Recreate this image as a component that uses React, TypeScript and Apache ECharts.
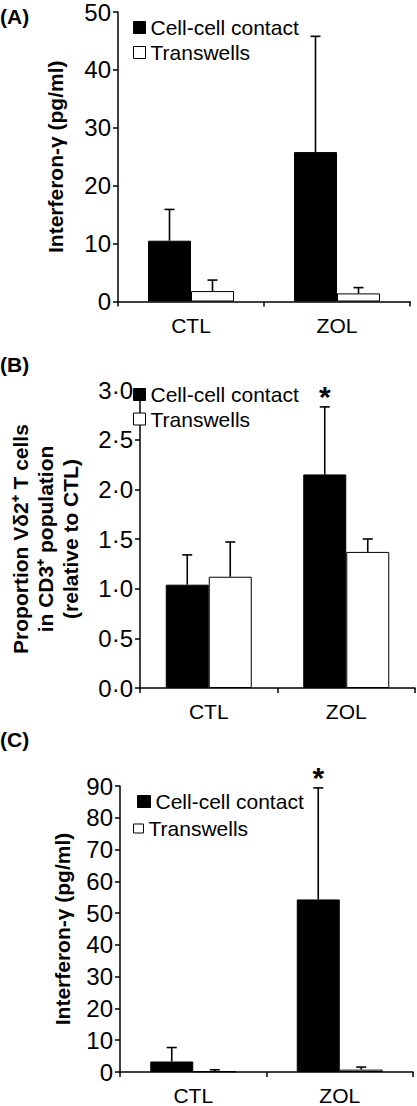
import React, { useEffect, useRef } from "react";
import * as echarts from "echarts";

const categories = ["CTL", "ZOL"];

// Panel A: Interferon-γ (pg/ml)
const aContact = [10.5, 25.8];
const aContactErr = [5.4, 20.0];
const aTrans = [1.8, 1.4];
const aTransErr = [1.9, 1.0];
const aSig = [false, false];

// Panel B: proportion Vδ2+ T cells (relative to CTL)
const bContact = [1.04, 2.15];
const bContactErr = [0.3, 0.68];
const bTrans = [1.12, 1.37];
const bTransErr = [0.35, 0.13];
const bSig = [false, true];

// Panel C: Interferon-γ (pg/ml)
const cContact = [3.3, 54.3];
const cContactErr = [4.4, 35.1];
const cTrans = [0.2, 0.75];
const cTransErr = [0.5, 0.8];
const cSig = [false, true];

const yMax = [50, 3, 90];
const yStep = [10, 0.5, 10];

const FONT = "'Liberation Sans', Arial, Helvetica, sans-serif";
const BAR_W = 43;
const CONTACT = "Cell-cell contact";
const TRANS = "Transwells";

function errRender(sign: number, sig: boolean[]) {
  return (params: any, api: any) => {
    const cat = api.value(0);
    const v = api.value(1);
    const e = api.value(2);
    const p0 = api.coord([cat, v]);
    const p1 = api.coord([cat, v + e]);
    const x = p0[0] + (sign * BAR_W) / 2;
    const children: any[] = [
      {
        type: "line",
        shape: { x1: x, y1: p0[1], x2: x, y2: p1[1] },
        style: { stroke: "#000", lineWidth: 1.6 },
      },
      {
        type: "line",
        shape: { x1: x - 5, y1: p1[1], x2: x + 5, y2: p1[1] },
        style: { stroke: "#000", lineWidth: 1.6 },
      },
    ];
    if (sig[params.dataIndex]) {
      children.push({
        type: "text",
        style: {
          text: "*",
          x: x,
          y: p1[1] - 10,
          fontSize: 30,
          fontWeight: "bold",
          fontFamily: FONT,
          fill: "#000",
          align: "center",
          verticalAlign: "middle",
        },
      });
    }
    return { type: "group", children };
  };
}

export default function App() {
  const ref = useRef<HTMLDivElement>(null);
  useEffect(() => {
    if (!ref.current) return;
    const chart = echarts.init(ref.current, undefined, { renderer: "svg" });

    const grids = [
      { left: 118, top: 10, width: 292, height: 291.5 },
      { left: 119, top: 390, width: 296, height: 298 },
      { left: 120, top: 786, width: 293, height: 291 },
    ];
    const yNames = [
      "Interferon-γ (pg/ml)",
      "Proportion Vδ2⁺ T cells\nin CD3⁺ population\n(relative to CTL)",
      "Interferon-γ (pg/ml)",
    ];
    const nameGaps = [50, 57, 44];
    const panels = [
      [aContact, aContactErr, aTrans, aTransErr, aSig],
      [bContact, bContactErr, bTrans, bTransErr, bSig],
      [cContact, cContactErr, cTrans, cTransErr, cSig],
    ] as any[];

    const axisLine = { show: true, lineStyle: { color: "#000", width: 1.5 } };
    const xAxis = grids.map((_, i) => ({
      type: "category",
      gridIndex: i,
      data: categories,
      boundaryGap: true,
      axisLine,
      axisTick: { show: true, length: 5, alignWithLabel: false, lineStyle: { color: "#000", width: 1.5 } },
      axisLabel: { color: "#000", fontSize: 21, fontFamily: FONT, margin: 13 },
    }));
    const yAxis = grids.map((_, i) => ({
      type: "value",
      gridIndex: i,
      min: 0,
      max: yMax[i],
      interval: yStep[i],
      name: yNames[i],
      nameLocation: "middle",
      nameRotate: 90,
      nameGap: nameGaps[i],
      nameTextStyle: {
        color: "#000",
        fontSize: 21,
        fontWeight: "bold",
        fontFamily: FONT,
        lineHeight: 25,
        align: "center",
      },
      axisLine,
      axisTick: { show: true, length: 5, lineStyle: { color: "#000", width: 1.5 } },
      splitLine: { show: false },
      axisLabel: {
        color: "#000",
        fontSize: 24,
        fontFamily: FONT,
        margin: 7,
        formatter: (v: number) => (i === 1 ? v.toFixed(1).replace(".", "·") : String(v)),
      },
    }));

    const series: any[] = [];
    panels.forEach((p, i) => {
      const [contact, contactErr, trans, transErr, sig] = p;
      series.push({
        name: CONTACT,
        type: "bar",
        xAxisIndex: i,
        yAxisIndex: i,
        data: contact,
        barWidth: BAR_W,
        barGap: "0%",
        itemStyle: { color: "#000", borderColor: "#000", borderWidth: 1 },
      });
      series.push({
        name: TRANS,
        type: "bar",
        xAxisIndex: i,
        yAxisIndex: i,
        data: trans,
        barWidth: BAR_W,
        barGap: "0%",
        itemStyle: { color: "#fff", borderColor: "#000", borderWidth: 1 },
      });
      series.push({
        type: "custom",
        xAxisIndex: i,
        yAxisIndex: i,
        z: 5,
        encode: { x: 0, y: 1 },
        renderItem: errRender(-1, sig),
        data: categories.map((_, k) => [k, contact[k], contactErr[k]]),
      });
      series.push({
        type: "custom",
        xAxisIndex: i,
        yAxisIndex: i,
        z: 5,
        encode: { x: 0, y: 1 },
        renderItem: errRender(1, [false, false]),
        data: categories.map((_, k) => [k, trans[k], transErr[k]]),
      });
    });

    const legendText = { color: "#000", fontSize: 21, fontFamily: FONT, lineHeight: 20 };
    const contactIcon = { color: "#000", borderColor: "#000", borderWidth: 1 };
    const transIcon = { color: "#fff", borderColor: "#000", borderWidth: 1 };
    const legend = [
      {
        orient: "vertical",
        left: 133,
        top: 17,
        padding: 0,
        itemGap: 4,
        itemWidth: 12,
        itemHeight: 12,
        selectedMode: false,
        textStyle: legendText,
        data: [
          { name: CONTACT, icon: "rect", itemStyle: contactIcon },
          { name: TRANS, icon: "rect", itemStyle: transIcon },
        ],
      },
      {
        orient: "vertical",
        left: 133,
        top: 384,
        padding: 0,
        itemGap: 3.5,
        itemWidth: 12,
        itemHeight: 12,
        selectedMode: false,
        textStyle: legendText,
        data: [
          { name: CONTACT, icon: "rect", itemStyle: contactIcon },
          { name: TRANS, icon: "rect", itemStyle: transIcon },
        ],
      },
      {
        orient: "vertical",
        left: 137,
        top: 791,
        padding: 0,
        itemWidth: 13,
        itemHeight: 12,
        selectedMode: false,
        textStyle: legendText,
        data: [{ name: CONTACT, icon: "rect", itemStyle: contactIcon }],
      },
      {
        orient: "vertical",
        left: 133,
        top: 818,
        padding: 0,
        itemWidth: 10,
        itemHeight: 9,
        selectedMode: false,
        textStyle: legendText,
        data: [{ name: TRANS, icon: "rect", itemStyle: transIcon }],
      },
    ];

    const letterStyle = { fontSize: 21, fontWeight: "bold", fontFamily: FONT, fill: "#000" };
    const graphic = [
      { type: "text", left: 0, top: 6, style: { text: "(A)", ...letterStyle } },
      { type: "text", left: 0, top: 354, style: { text: "(B)", ...letterStyle } },
      { type: "text", left: 0, top: 729, style: { text: "(C)", ...letterStyle } },
    ];

    chart.setOption({
      animation: false,
      backgroundColor: "#fff",
      grid: grids,
      xAxis,
      yAxis,
      legend,
      graphic,
      series,
      tooltip: { show: false },
    });
    return () => chart.dispose();
  }, []);

  return (
    <div
      ref={ref}
      style={{ position: "absolute", left: 0, top: 0, width: 417, height: 1106, background: "#fff" }}
    />
  );
}
